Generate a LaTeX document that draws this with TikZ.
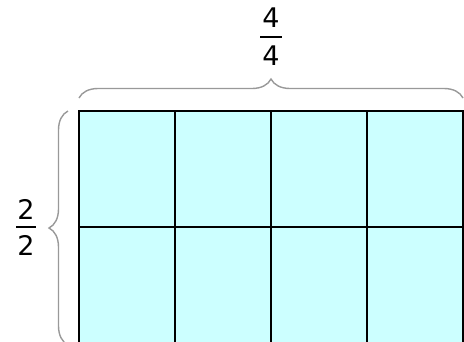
\documentclass[tikz,border=0pt]{standalone}
\usepackage{fontspec}
\setmainfont{DejaVu Sans}
\usetikzlibrary{decorations.pathreplacing}
\definecolor{cellfill}{HTML}{CCFFFF}
\begin{document}
\begin{tikzpicture}[x=1pt,y=-1pt,
  cell/.style={fill=cellfill, draw=black, line width=2.2pt},
  bracestyle/.style={draw=black!40, line width=1.4pt, decorate, decoration={brace, amplitude=19pt}},
  num/.style={font=\fontsize{27}{27}\selectfont, inner sep=0pt},
  fracline/.style={draw=black, line width=1.5pt}]
\useasboundingbox (0,0) rectangle (464,341);
\begin{scope}
\clip (0,0) rectangle (464,341);
\foreach \i in {0,1,2,3} {
  \foreach \j in {0,1} {
    \draw[cell] (79+96*\i,111+116*\j) rectangle (175+96*\i,227+116*\j);
  }
}
\coordinate (tl) at (79,98);
\coordinate (tr) at (463,98);
\draw[bracestyle] (tl) -- (tr);
\coordinate (lb) at (68,345);
\coordinate (lt) at (68,111);
\draw[bracestyle] (lb) -- (lt);
\end{scope}
\node[num] (tn) at (271,18) {4};
\node[num] (td) at (271,56) {4};
\coordinate (tf1) at (260,37);
\coordinate (tf2) at (282,37);
\draw[fracline] (tf1) -- (tf2);
\node[num] (ln) at (26,209) {2};
\node[num] (ld) at (26,245) {2};
\coordinate (lf1) at (16,227);
\coordinate (lf2) at (36,227);
\draw[fracline] (lf1) -- (lf2);
\end{tikzpicture}
\end{document}
